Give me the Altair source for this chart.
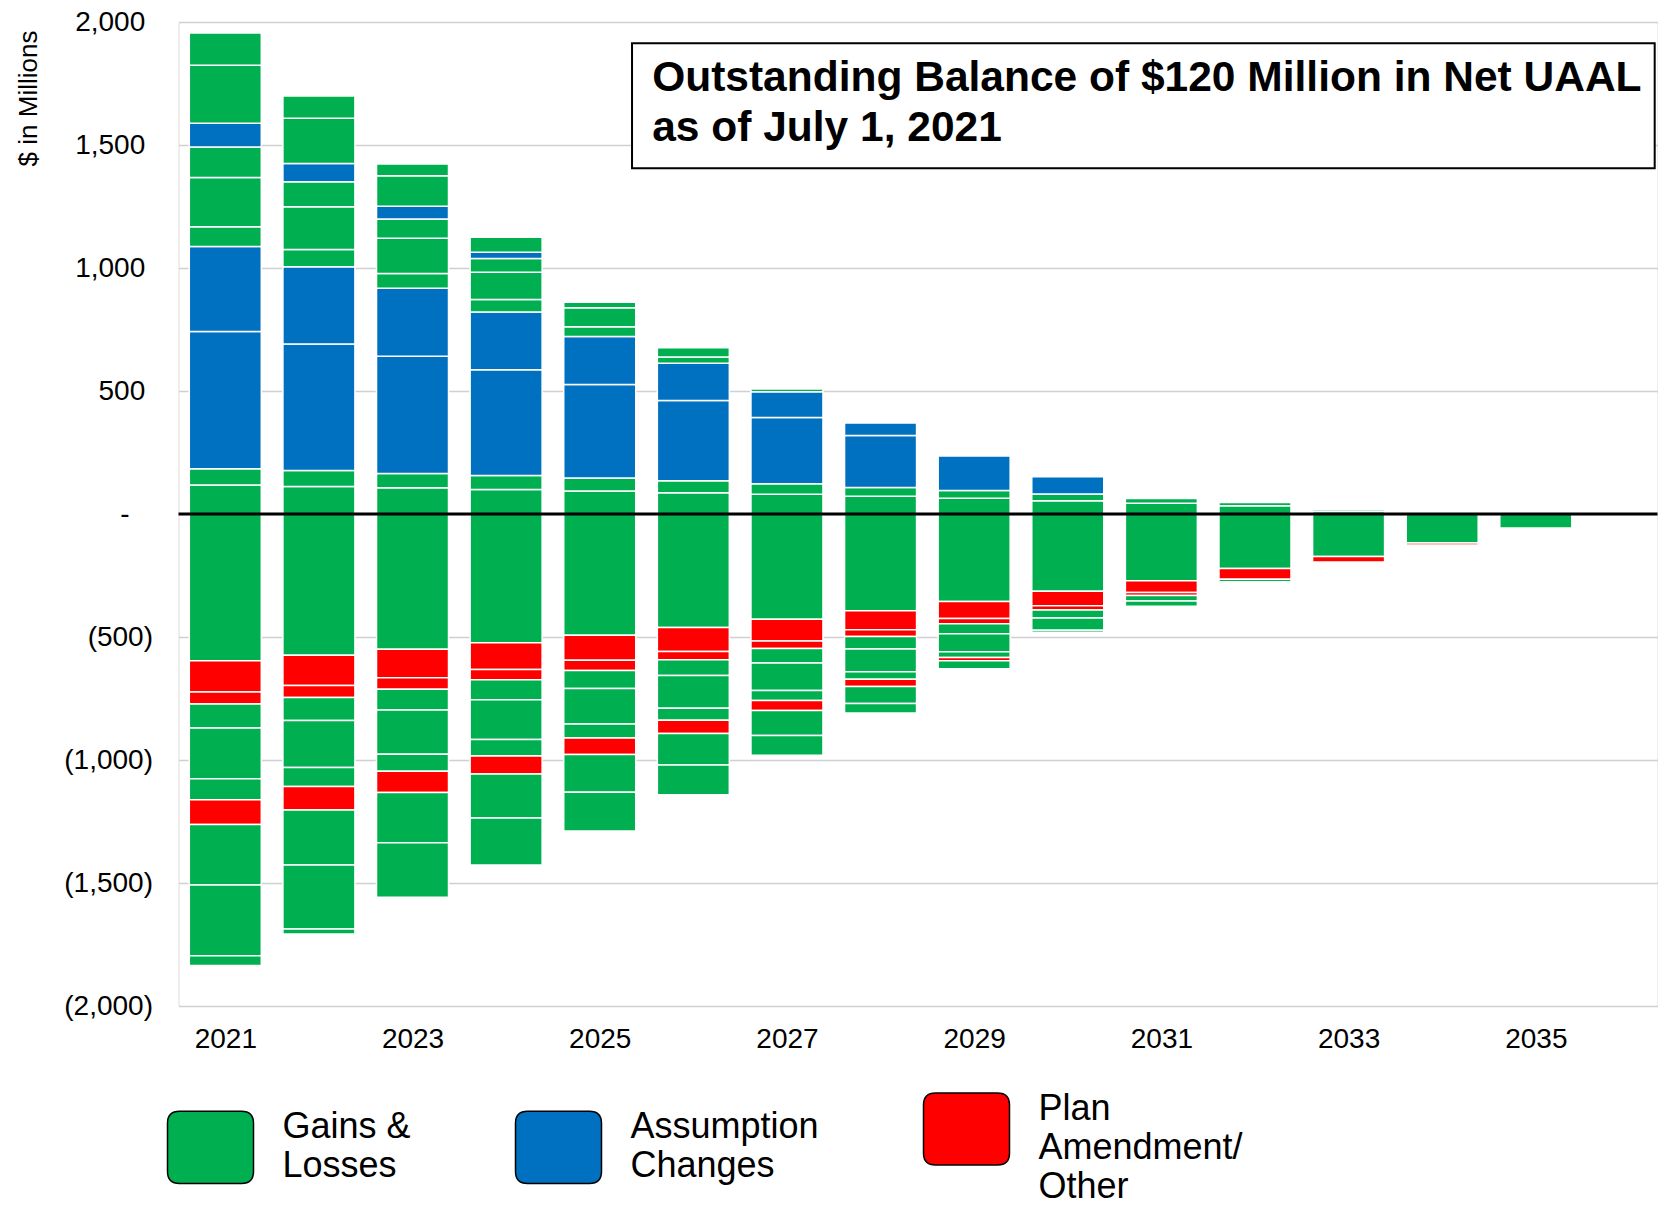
import altair as alt
import pandas as pd

# ---------------- data ----------------
YEARS = list(range(2021, 2036))
TICK_YEARS = [2021, 2023, 2025, 2027, 2029, 2031, 2033, 2035]
Y_TICKS = [-2000, -1500, -1000, -500, 0, 500, 1000, 1500, 2000]

CATS = ["Gains & Losses", "Assumption Changes", "Plan Amendment/Other"]
COLORS = ["#00B050", "#0070C0", "#FF0000"]
G, B, R = CATS

# positive amortization layers, stacked from zero upwards ($ millions)
P1 = [118, 112, 107, 100, 94, 86, 80, 72, 64, 54, 44, 34, 10, 6, 0]
P2 = [66, 65, 58, 56, 52, 49, 43, 36, 32, 27, 19, 13, 7, 0, 0]
P3 = [558, 514, 476, 430, 380, 326, 269, 211, 140, 70, 0, 0, 0, 0, 0]
P4 = [345, 314, 277, 235, 196, 152, 105, 51, 0, 0, 0, 0, 0, 0, 0]
P5 = [81, 70, 60, 51, 39, 25, 11, 0, 0, 0, 0, 0, 0, 0, 0]
P6 = [200, 174, 143, 111, 77, 38, 0, 0, 0, 0, 0, 0, 0, 0, 0]
P7 = [124, 102, 78, 56, 23, 0, 0, 0, 0, 0, 0, 0, 0, 0, 0]
P8 = [96, 74, 52, 25, 0, 0, 0, 0, 0, 0, 0, 0, 0, 0, 0]
P9 = [236, 184, 124, 61, 0, 0, 0, 0, 0, 0, 0, 0, 0, 0, 0]
P10 = [131, 90, 48, 0, 0, 0, 0, 0, 0, 0, 0, 0, 0, 0, 0]
POS_CATS = [G, G, B, B, G, G, G, B, G, G]

# negative amortization layers, stacked from zero downwards ($ millions)
N1 = [597, 574, 550, 523, 493, 461, 428, 393, 356, 314, 271, 222, 173, 118, 57]
N2 = [127, 123, 116, 109, 102, 98, 88, 78, 69, 59, 48, 43, 22, 8, 0]
N3 = [48, 49, 46, 42, 41, 33, 31, 27, 21, 17, 12, 0, 0, 0, 0]
N4 = [98, 93, 85, 81, 73, 65, 59, 51, 41, 33, 23, 10, 0, 0, 0]
N5 = [206, 191, 180, 162, 145, 133, 111, 92, 73, 50, 21, 0, 0, 0, 0]
N6 = [86, 78, 69, 67, 57, 48, 41, 31, 23, 8, 0, 0, 0, 0, 0]
N7 = [100, 95, 86, 73, 67, 54, 41, 29, 14, 0, 0, 0, 0, 0, 0]
N8 = [246, 224, 204, 179, 153, 128, 101, 69, 32, 0, 0, 0, 0, 0, 0]
N9 = [288, 260, 222, 191, 158, 121, 81, 39, 0, 0, 0, 0, 0, 0, 0]
N10 = [39, 20, 0, 0, 0, 0, 0, 0, 0, 0, 0, 0, 0, 0, 0]
NEG_CATS = [G, R, R, G, G, G, R, G, G, G]

TITLE_LINES = ["Outstanding Balance of $120 Million in Net UAAL", "as of July 1, 2021"]
LEGEND_LINES = {
    "Gains & Losses": ["Gains &", "Losses"],
    "Assumption Changes": ["Assumption", "Changes"],
    "Plan Amendment/Other": ["Plan", "Amendment/", "Other"],
}

# ---------------- table ----------------
rows = []
for sign, layers, cats, tag in [
    (1, [P1, P2, P3, P4, P5, P6, P7, P8, P9, P10], POS_CATS, "P"),
    (-1, [N1, N2, N3, N4, N5, N6, N7, N8, N9, N10], NEG_CATS, "N"),
]:
    for i, (vals, cat) in enumerate(zip(layers, cats), start=1):
        for yr, v in zip(YEARS, vals):
            if v:
                rows.append({"year": yr, "value": sign * v, "cat": cat,
                             "order": i, "layer": f"{tag}{i}"})
df = pd.DataFrame(rows)

# annotation (box in data coordinates)
BOX = pd.DataFrame({"x0": [2025.345], "x1": [2036.27], "y0": [1405], "y1": [1914]})
TXT = pd.DataFrame({"line": TITLE_LINES, "x": [2025.56, 2025.56], "y": [1720, 1518]})

FONT = "Liberation Sans, Arial, sans-serif"
xscale = alt.Scale(domain=[2020.5, 2036.3], nice=False, zero=False, padding=0)
yscale = alt.Scale(domain=[-2000, 2000], nice=False, zero=False, padding=0)

NB = "\u00a0"
ZW = "\u200b"
y_label_expr = (
    f"datum.value == 0 ? '-{NB}{NB}{NB}{ZW}' : (datum.value < 0 ? "
    f"'(' + format(-datum.value, ',') + ')' : format(datum.value, ',') + '{NB}{ZW}')"
)
legend_expr = " : ".join(
    [f"datum.label == '{k}' ? {v!r}" for k, v in list(LEGEND_LINES.items())[:-1]]
    + [repr(list(LEGEND_LINES.values())[-1])]
)

SYMBOL = ("M-1,-0.56 Q-1,-0.84 -0.72,-0.84 L0.72,-0.84 Q1,-0.84 1,-0.56 "
          "L1,0.56 Q1,0.84 0.72,0.84 L-0.72,0.84 Q-1,0.84 -1,0.56 Z")

bars = alt.Chart(df).mark_bar(size=72, stroke="white", strokeWidth=1.5).encode(
    x=alt.X("year:Q", scale=xscale,
            axis=alt.Axis(values=TICK_YEARS, format="d", title=None, grid=False,
                          ticks=False, domain=False, labelFontSize=28,
                          labelPadding=19, labelColor="black", labelFont=FONT)),
    y=alt.Y("value:Q", stack="zero", scale=yscale,
            axis=alt.Axis(values=Y_TICKS, title="$ in Millions", grid=True,
                          gridColor="#d0d0d0", gridWidth=1.3, ticks=False,
                          domain=False, labelFontSize=28, labelPadding=26,
                          labelColor="black", labelFont=FONT,
                          labelExpr=y_label_expr,
                          titleFont=FONT, titleFontSize=26,
                          titleFontWeight="normal", titleColor="black",
                          titleAngle=-90, titleX=-150, titleY=76,
                          titleAlign="center", titleBaseline="middle")),
    color=alt.Color("cat:N", scale=alt.Scale(domain=CATS, range=COLORS),
                    legend=alt.Legend(orient="none", legendX=-12, legendY=1063,
                                      direction="horizontal", title=None,
                                      symbolType=SYMBOL, symbolSize=7396,
                                      symbolStrokeColor="black",
                                      symbolStrokeWidth=1.5, symbolOpacity=1,
                                      labelFontSize=36, labelFont=FONT,
                                      labelColor="black", labelOffset=28,
                                      labelBaseline="line-bottom",
                                      labelLimit=500, columnPadding=101,
                                      padding=0, labelExpr=legend_expr)),
    order=alt.Order("order:Q", sort="ascending"),
    detail="layer:N",
)

zero = alt.Chart(pd.DataFrame({"z": [0]})).mark_rule(
    color="black", strokeWidth=3).encode(y=alt.Y("z:Q", scale=yscale))

box = alt.Chart(BOX).mark_rect(fill="white", stroke="black", strokeWidth=2).encode(
    x=alt.X("x0:Q", scale=xscale), x2="x1:Q",
    y=alt.Y("y0:Q", scale=yscale), y2="y1:Q")

txt = alt.Chart(TXT).mark_text(align="left", baseline="alphabetic", fontSize=42.5,
                               fontWeight="bold", font=FONT, color="black").encode(
    x=alt.X("x:Q", scale=xscale), y=alt.Y("y:Q", scale=yscale), text="line:N")

chart = alt.layer(bars, zero, box, txt).properties(
    width=1479, height=984,
    padding={"left": 170.5, "top": 14, "right": 0, "bottom": 192},
    autosize=alt.AutoSizeParams(type="none"),
).configure_view(stroke=None).configure(
    font=FONT, style={"guide-label": {"lineHeight": 39}}
)

chart.save("out.html", embed_options={"renderer": "svg", "actions": False})
